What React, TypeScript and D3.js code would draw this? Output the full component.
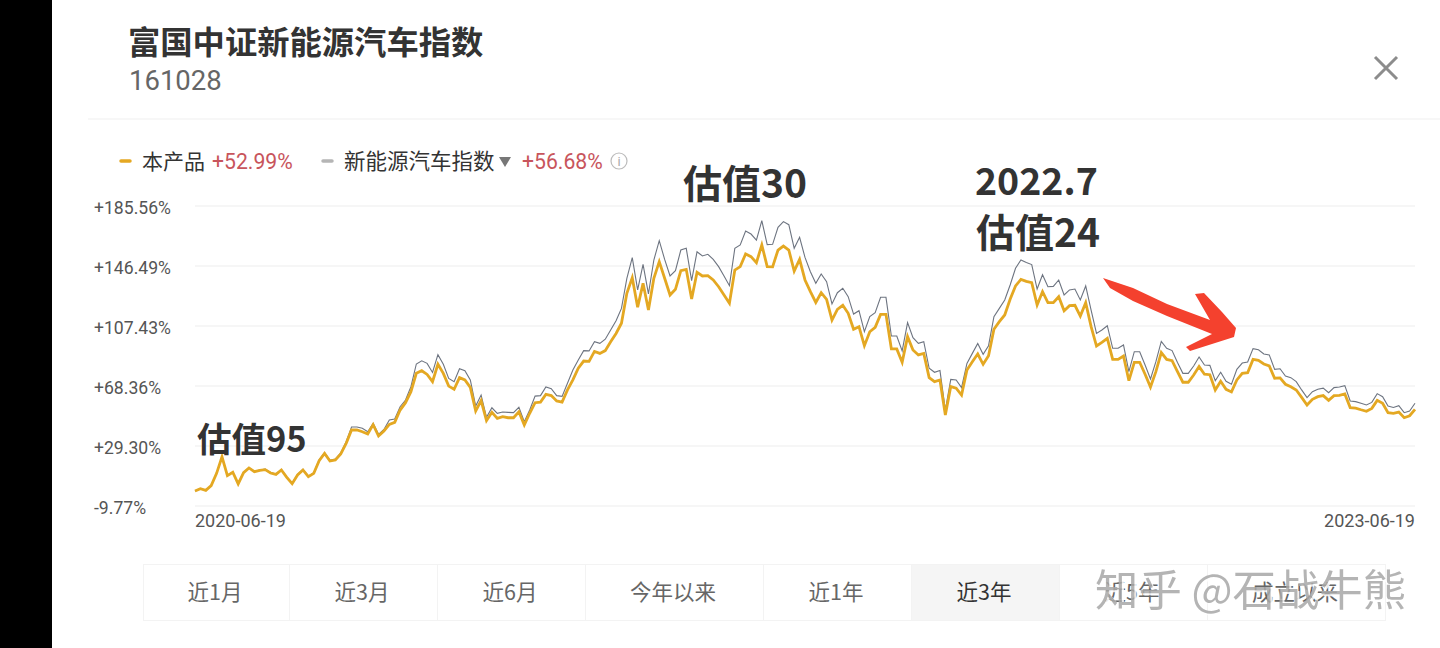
import React, { useEffect, useRef } from "react";
import * as d3 from "d3";

const CJK = '"Noto Sans CJK SC", "Noto Sans", sans-serif';
const NUM = 'Roboto, "Noto Sans CJK SC", sans-serif';

// % return, one point per sampling date between the two end dates
const product = [
  0.0, 1.5, 0.4, 3.5, 11.5, 22.3, 10.0, 12.2, 4.6, 11.9, 15.0, 12.6, 13.4, 13.9, 11.7, 10.8, 13.7, 8.9, 4.8, 10.4,
  13.7, 9.3, 11.5, 19.8, 24.5, 19.5, 20.2, 24.1, 31.0, 39.7, 39.7, 38.6, 37.1, 43.2, 35.8, 39.1, 43.4, 44.7, 52.7, 57.5,
  64.7, 76.6, 78.3, 75.9, 71.2, 82.5, 76.6, 68.3, 66.2, 73.8, 72.3, 67.5, 52.1, 58.8, 45.8, 51.2, 47.3, 48.4, 47.7, 47.7,
  51.6, 43.0, 50.6, 57.5, 57.9, 62.9, 62.1, 58.6, 57.9, 65.8, 72.3, 79.9, 84.6, 84.4, 90.9, 89.6, 91.4, 97.2, 102.6, 109.2,
  128.7, 138.9, 119.6, 135.2, 117.9, 138.5, 149.3, 138.5, 127.6, 131.3, 143.5, 144.3, 125.0, 142.4, 140.0, 140.2, 137.4, 133.0, 127.6, 122.2,
  143.9, 146.1, 154.3, 152.6, 148.7, 160.2, 146.1, 145.9, 156.9, 159.5, 156.9, 143.2, 150.8, 137.4, 129.8, 122.8, 129.1, 124.8, 111.3, 118.3,
  120.9, 115.7, 105.3, 107.0, 94.6, 103.7, 106.6, 115.0, 115.0, 92.5, 92.5, 83.8, 100.5, 91.8, 88.6, 89.6, 73.8, 71.2, 72.3, 49.5,
  68.0, 66.9, 62.5, 78.8, 84.2, 89.2, 82.5, 88.1, 105.3, 110.3, 114.6, 124.8, 133.5, 137.8, 136.5, 135.6, 121.1, 129.8, 122.6, 122.6,
  126.5, 117.4, 120.7, 120.9, 113.9, 122.6, 107.0, 94.4, 96.8, 99.4, 85.7, 85.7, 87.9, 71.8, 83.8, 83.8, 76.0, 67.7, 77.7, 90.1,
  85.7, 84.9, 77.7, 70.8, 70.8, 75.5, 81.0, 76.0, 75.7, 65.8, 71.4, 66.2, 64.5, 72.3, 76.6, 77.0, 85.7, 85.1, 82.7, 81.4,
  73.4, 73.6, 69.5, 67.9, 65.8, 61.0, 56.0, 59.7, 61.4, 62.1, 59.0, 62.1, 62.3, 63.2, 54.3, 54.0, 52.9, 51.9, 53.8, 59.0,
  57.1, 51.0, 50.6, 51.4, 47.7, 49.0, 53.2,
];

const indexSeries = [
  0.0, 1.5, 0.4, 3.5, 11.6, 22.5, 10.2, 12.4, 4.8, 12.1, 15.2, 12.8, 13.7, 14.2, 12.0, 11.1, 14.0, 9.2, 5.1, 10.8,
  14.1, 9.7, 11.9, 20.3, 25.0, 20.0, 20.8, 24.8, 32.1, 41.7, 41.7, 40.8, 38.6, 44.0, 36.9, 40.1, 46.2, 46.9, 54.9, 59.2,
  67.9, 82.7, 84.8, 83.1, 77.2, 88.8, 82.5, 73.3, 71.2, 79.6, 78.3, 72.3, 55.3, 62.5, 48.0, 54.2, 50.6, 51.4, 51.2, 51.0,
  54.5, 45.1, 52.7, 61.8, 62.1, 67.7, 66.6, 62.1, 61.6, 70.1, 78.8, 85.3, 91.4, 91.2, 97.2, 96.1, 98.8, 104.8, 110.9, 118.9,
  138.5, 151.9, 130.9, 147.6, 128.3, 150.4, 163.0, 150.8, 140.0, 143.5, 156.9, 158.0, 137.0, 155.8, 153.0, 154.1, 150.8, 146.1, 140.0, 133.7,
  158.0, 160.2, 169.3, 167.3, 163.4, 176.0, 160.4, 160.6, 171.7, 175.4, 173.4, 158.0, 165.2, 152.1, 142.8, 135.2, 141.3, 136.3, 121.8, 129.1,
  132.0, 126.5, 115.2, 117.4, 103.7, 113.5, 116.1, 126.1, 126.1, 100.9, 100.9, 91.2, 109.6, 99.8, 96.1, 97.2, 79.9, 77.3, 78.4, 52.7,
  72.7, 72.3, 67.3, 83.1, 89.6, 96.1, 89.0, 94.6, 113.5, 118.9, 124.4, 134.1, 145.0, 150.4, 148.7, 147.4, 131.5, 140.8, 133.0, 133.2,
  137.4, 127.6, 130.9, 131.5, 124.4, 133.5, 117.8, 102.6, 104.8, 107.6, 92.9, 92.9, 95.1, 77.7, 90.7, 90.7, 82.0, 72.9, 84.2, 97.4,
  92.9, 91.4, 83.6, 76.6, 76.6, 81.4, 87.2, 82.0, 81.8, 71.8, 77.3, 71.4, 69.5, 79.2, 83.3, 84.0, 92.7, 92.0, 89.2, 88.6,
  79.2, 79.6, 74.9, 73.8, 71.2, 65.8, 60.8, 64.7, 66.2, 67.0, 64.0, 67.3, 67.7, 68.6, 58.6, 58.2, 57.1, 56.0, 57.7, 63.4,
  61.4, 55.3, 54.4, 55.5, 51.0, 52.1, 57.1,
];

const yTicks = [185.56, 146.49, 107.43, 68.36, 29.3, -9.77];
const dateLabels = ["2020-06-19", "2023-06-19"];
const periods = ["近1月", "近3月", "近6月", "今年以来", "近1年", "近3年", "近5年", "成立以来"];
const periodEdges = [143, 289, 437, 585, 763, 911, 1059, 1207, 1385];

const App = () => {
  const ref = useRef<SVGSVGElement>(null);

  useEffect(() => {
    const svg = d3.select(ref.current);
    svg.selectAll("*").remove();

    const x = d3.scaleLinear().domain([0, product.length - 1]).range([195, 1415]);
    const y = d3.scaleLinear().domain([-9.77, 185.56]).range([506, 206]);

    const text = (
      t: string, tx: number, ty: number, size: number, fill: string,
      family = CJK, weight = 400, anchor = "start",
    ) =>
      svg.append("text").attr("x", tx).attr("y", ty).attr("font-size", size).attr("fill", fill)
        .attr("font-family", family).attr("font-weight", weight).attr("text-anchor", anchor).text(t);

    // page
    svg.append("rect").attr("width", 1440).attr("height", 648).attr("fill", "#fff");
    svg.append("rect").attr("width", 52).attr("height", 648).attr("fill", "#000");

    // header
    text("富国中证新能源汽车指数", 128, 54, 32.3, "#333", CJK, 700);
    text("161028", 129, 90, 27.5, "#666", NUM);
    svg.append("line").attr("x1", 88).attr("x2", 1440).attr("y1", 119).attr("y2", 119)
      .attr("stroke", "#f4f4f4").attr("stroke-width", 1.5);
    svg.append("path").attr("d", "M1375,57L1397,79M1397,57L1375,79")
      .attr("stroke", "#8c8c8c").attr("stroke-width", 3).attr("fill", "none");

    // legend
    svg.append("line").attr("x1", 121).attr("x2", 130).attr("y1", 161).attr("y2", 161)
      .attr("stroke", "#e5a823").attr("stroke-width", 3.5).attr("stroke-linecap", "round");
    text("本产品", 142, 169, 21, "#333");
    text("+52.99%", 212, 169, 21.2, "#c8555c", NUM);
    svg.append("line").attr("x1", 323).attr("x2", 332).attr("y1", 161).attr("y2", 161)
      .attr("stroke", "#b5b5b5").attr("stroke-width", 3.5).attr("stroke-linecap", "round");
    text("新能源汽车指数", 344, 169, 21.5, "#333");
    svg.append("path").attr("d", "M499,157L511,157L505,167Z").attr("fill", "#777");
    text("+56.68%", 522, 169, 21.2, "#c8555c", NUM);
    svg.append("circle").attr("cx", 619).attr("cy", 161).attr("r", 8)
      .attr("fill", "none").attr("stroke", "#bbb").attr("stroke-width", 1.2);
    text("i", 619, 166, 13, "#aaa", NUM, 400, "middle");

    // grid and y labels
    const axis = svg.append("g");
    axis.selectAll("line").data(yTicks).enter().append("line")
      .attr("x1", 195).attr("x2", 1415)
      .attr("y1", (d) => y(d)).attr("y2", (d) => y(d))
      .attr("stroke", "#f3f3f3").attr("stroke-width", 1.5);
    axis.selectAll("text").data(yTicks).enter().append("text")
      .attr("x", 94).attr("y", (d) => y(d) + 8)
      .attr("font-size", 17.6).attr("font-family", NUM).attr("fill", "#555")
      .text((d) => (d > 0 ? "+" : "") + d.toFixed(2) + "%");

    text(dateLabels[0], 195, 527, 18, "#555", NUM);
    text(dateLabels[1], 1415, 527, 18, "#555", NUM, 400, "end");

    // series
    const line = d3.line<number>().x((_, i) => x(i)).y((d) => y(d));
    svg.append("path").attr("d", line(indexSeries)).attr("fill", "none")
      .attr("stroke", "#6d7480").attr("stroke-width", 1.1);
    svg.append("path").attr("d", line(product)).attr("fill", "none")
      .attr("stroke", "#e4a822").attr("stroke-width", 2.8);

    // period buttons
    const btns = svg.append("g");
    periods.forEach((p, i) => {
      const x0 = periodEdges[i];
      const x1 = periodEdges[i + 1];
      btns.append("rect").attr("x", x0 + 0.5).attr("y", 564.5).attr("width", x1 - x0).attr("height", 56)
        .attr("fill", p === "近3年" ? "#f5f5f5" : "#fff").attr("stroke", "#f3f3f3");
      btns.append("text").attr("x", (x0 + x1) / 2 - 1).attr("y", 600).attr("text-anchor", "middle")
        .attr("font-size", 21.5).attr("font-family", CJK)
        .attr("fill", p === "近3年" ? "#333" : "#666").text(p);
    });

    // hand-drawn notes on top of the screenshot
    text("估值95", 197, 452, 34.5, "#333", CJK, 700);
    text("估值30", 683, 198, 39, "#333", CJK, 700);
    text("2022.7", 975, 195, 37.5, "#333", CJK, 700);
    text("估值24", 976, 247, 39, "#333", CJK, 700);
    svg.append("path")
      .attr("d", "M1103,278L1133,288L1167,304L1210,320L1195,294L1204,293L1222,312L1236,328L1234,337L1190,351L1186,347L1212,334L1167,316L1133,301L1110,288Z")
      .attr("fill", "#f4412e");

    // watermark, sits over the last two buttons in the original too
    text("知乎 @石战牛熊", 1095, 606, 43.4, "#a8a8a8", CJK, 400)
      .attr("opacity", 0.85)
      .style("filter", "drop-shadow(2px 2px 0 #fff)");
  }, []);

  return (
    <svg ref={ref} width="1440" height="648" style={{ position: "absolute", left: 0, top: 0 }}></svg>
  );
};

export default App;
